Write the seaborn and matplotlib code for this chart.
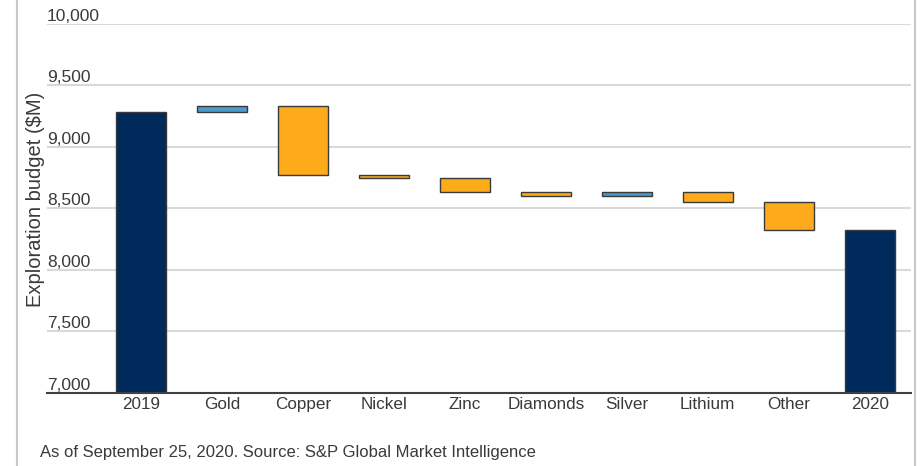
import pandas as pd
import matplotlib.pyplot as plt
import seaborn as sns
from matplotlib.lines import Line2D

# values ($M)
categories = ['2019', 'Gold', 'Copper', 'Nickel', 'Zinc', 'Diamonds',
              'Silver', 'Lithium', 'Other', '2020']
start_total = 9280
changes = [50, -560, -20, -115, -35, 30, -80, -230]

navy = '#002A5C'
orange = '#FDAA1B'
blue = '#4A9BCB'

# build waterfall table
bottoms = [7000]
heights = [start_total - 7000]
level = start_total
for c in changes:
    bottoms.append(min(level, level + c))
    heights.append(abs(c))
    level += c
bottoms.append(7000)
heights.append(level - 7000)

colors = [navy] + [blue if c > 0 else orange for c in changes] + [navy]
df = pd.DataFrame({'cat': categories, 'height': heights, 'bottom': bottoms})

sns.set_style('white')
plt.rcParams['font.family'] = ['Liberation Sans', 'DejaVu Sans']

fig = plt.figure(figsize=(9.22, 4.66), dpi=100)
ax = fig.add_axes([0.051, 0.157, 0.937, 0.792])

sns.barplot(data=df, x='cat', y='height', hue='cat', palette=colors,
            legend=False, width=0.62, edgecolor='#3A3A3A', linewidth=1,
            saturation=1, ax=ax, zorder=3)

# lift each bar onto its base
for patch, b in zip(ax.patches, df['bottom']):
    patch.set_y(b)

ax.set_ylim(7000, 10000)
ax.set_xlim(-1.16, 9.51)
yt = [7000, 7500, 8000, 8500, 9000, 9500, 10000]
ax.set_yticks(yt)
ax.set_yticklabels([f'{v:,}' for v in yt])
plt.setp(ax.get_yticklabels(), ha='left', va='bottom')
ax.tick_params(axis='y', length=0, pad=0, labelsize=12.5, colors='#3A3A3A')
ax.tick_params(axis='x', length=0, pad=3, labelsize=12.3, colors='#3A3A3A')

ax.grid(axis='y', color='#D9D9D9', linewidth=1.5, zorder=0)
for s in ['top', 'right', 'left']:
    ax.spines[s].set_visible(False)
ax.spines['bottom'].set_color('#404040')
ax.spines['bottom'].set_linewidth(1.5)
ax.spines['bottom'].set_zorder(4)

ax.set_xlabel('')
ax.set_ylabel('Exploration budget ($M)', fontsize=14.5, color='#3A3A3A')
ax.yaxis.set_label_coords(-0.002, 0.523)

fig.text(0.0434, 0.028, 'As of September 25, 2020. Source: S&P Global Market Intelligence',
         fontsize=12, color='#3A3A3A', va='center')

# frame lines at the picture sides
fig.add_artist(Line2D([17 / 922, 17 / 922], [0, 1], color='#C8C8C8', linewidth=1.5))
fig.add_artist(Line2D([915 / 922, 915 / 922], [0, 1], color='#C8C8C8', linewidth=1.5))

fig.savefig('out.png', dpi=100)
